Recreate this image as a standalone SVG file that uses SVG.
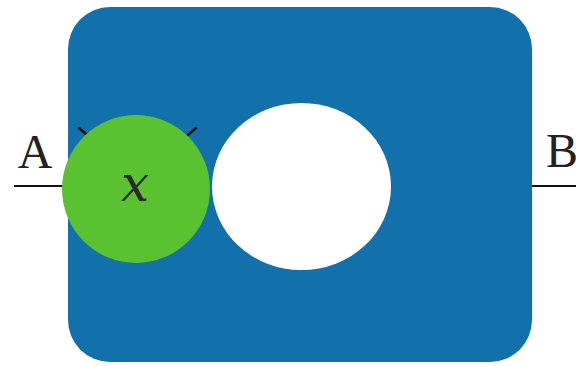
<svg xmlns="http://www.w3.org/2000/svg" width="576" height="366" viewBox="0 0 576 366">
<style>
.lbl{font-family:"Liberation Serif","DejaVu Serif",serif;fill:#222}
.math{font-family:"DejaVu Serif","Liberation Serif",serif;font-style:italic;fill:#2a2a2a}
.wire{stroke:#111;stroke-width:2;fill:none}
.tick{stroke:#111;stroke-width:2.5;stroke-linecap:round}
</style>
<rect x="0" y="0" width="576" height="366" fill="#ffffff"/>
<g id="box">
<rect x="68" y="7" width="464" height="355" rx="42" ry="42" fill="#1271ab"/>
</g>
<g id="connectors">
<line class="wire" x1="14" y1="186" x2="66" y2="186"/>
<line class="wire" x1="532" y1="186" x2="576" y2="186"/>
</g>
<g id="hole">
<ellipse cx="301.5" cy="186.5" rx="89.5" ry="83.5" fill="#ffffff"/>
</g>
<g id="nodeX">
<line class="tick" x1="79" y1="128" x2="87" y2="135"/>
<line class="tick" x1="188" y1="135" x2="196" y2="128"/>
<circle cx="136" cy="189" r="74" fill="#5ac231"/>
<text class="math" x="135" y="201" font-size="50" text-anchor="middle">x</text>
</g>
<g id="labelA">
<text class="lbl" x="35" y="168" font-size="48" text-anchor="middle">A</text>
</g>
<g id="labelB">
<text class="lbl" x="546" y="167" font-size="48">B</text>
</g>
</svg>
